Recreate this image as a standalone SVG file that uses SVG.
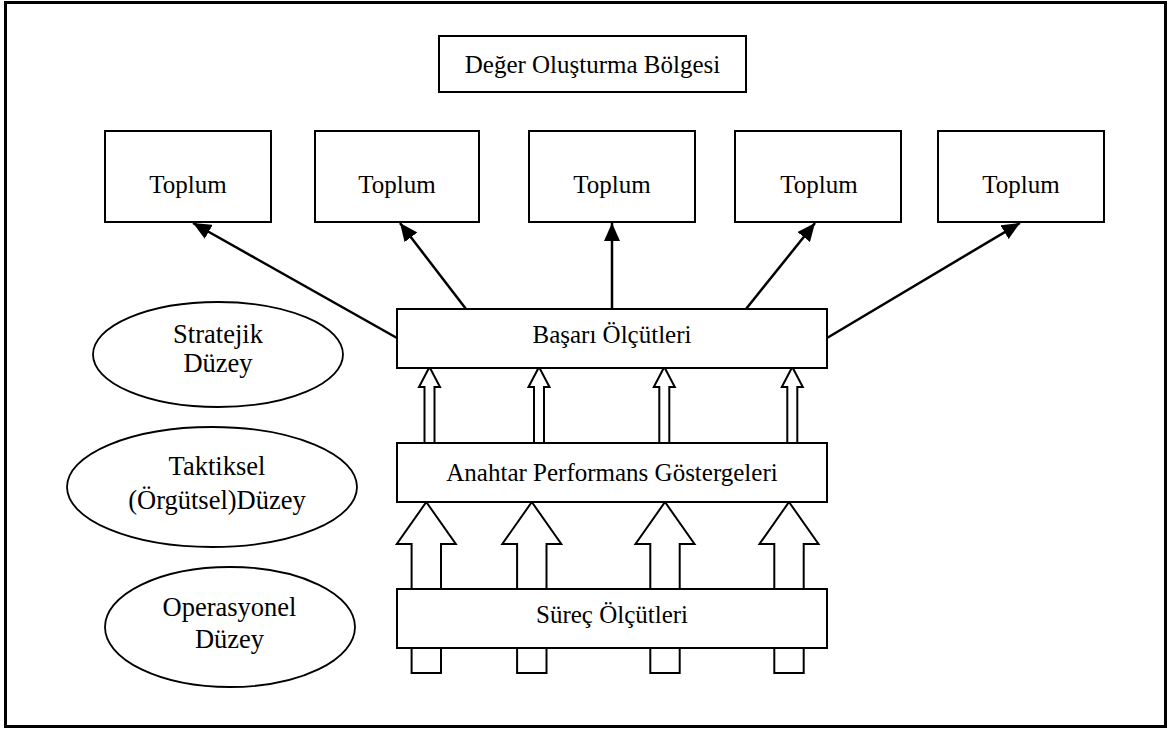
<svg xmlns="http://www.w3.org/2000/svg" width="1167" height="729" viewBox="0 0 1167 729">
  <style>
    .box { fill: #fff; stroke: #000; stroke-width: 2; }
    .oval { fill: #fff; stroke: #000; stroke-width: 1.8; }
    .lbl { font-family: "Liberation Serif", "Times New Roman", serif; font-size: 25px; fill: #000; text-anchor: middle; }
    .lvl { font-family: "Liberation Serif", "Times New Roman", serif; font-size: 26.5px; fill: #000; text-anchor: middle; }
    .link { stroke: #000; stroke-width: 2.5; fill: none; marker-end: url(#head); }
    .block { fill: #fff; stroke: #000; stroke-width: 2; stroke-linejoin: miter; }
  </style>
  <defs>
    <marker id="head" markerUnits="userSpaceOnUse" markerWidth="20" markerHeight="16" refX="18" refY="8" orient="auto">
      <path d="M0,0 L18,8 L0,16 Z" fill="#000"/>
    </marker>
  </defs>

  <rect x="0" y="0" width="1167" height="729" fill="#fff"/>
  <!-- frame -->
  <rect x="5.5" y="2.5" width="1160" height="724" fill="none" stroke="#000" stroke-width="3"/>

  <g id="connectors">
    <!-- success measures to society boxes -->
    <line class="link" x1="397" y1="338" x2="193" y2="223"/>
    <line class="link" x1="466" y1="309" x2="400" y2="223"/>
    <line class="link" x1="612" y1="309" x2="612" y2="223"/>
    <line class="link" x1="746" y1="309" x2="815" y2="223"/>
    <line class="link" x1="827" y1="338" x2="1020" y2="223"/>
    <!-- narrow block arrows: KPI to success measures -->
    <path class="block" d="M429.5,367 L440,387 L434.5,387 L434.5,443 L424.5,443 L424.5,387 L419,387 Z"/>
    <path class="block" d="M539,367 L549.5,387 L544,387 L544,443 L534,443 L534,387 L528.5,387 Z"/>
    <path class="block" d="M664.3,367 L674.8,387 L669.3,387 L669.3,443 L659.3,443 L659.3,387 L653.8,387 Z"/>
    <path class="block" d="M792.3,367 L802.8,387 L797.3,387 L797.3,443 L787.3,443 L787.3,387 L781.8,387 Z"/>
    <!-- wide block arrows: process measures to KPI -->
    <path class="block" d="M426.3,502 L455.8,544 L441,544 L441,673 L411.6,673 L411.6,544 L396.8,544 Z"/>
    <path class="block" d="M531.8,502 L561.3,544 L546.5,544 L546.5,673 L517.1,673 L517.1,544 L502.3,544 Z"/>
    <path class="block" d="M665,502 L694.5,544 L679.7,544 L679.7,673 L650.3,673 L650.3,544 L635.5,544 Z"/>
    <path class="block" d="M789,502 L818.5,544 L803.7,544 L803.7,673 L774.3,673 L774.3,544 L759.5,544 Z"/>
  </g>

  <g id="value-zone">
    <rect class="box" x="439" y="36" width="307" height="56"/>
    <text class="lbl" x="592.5" y="72.5">Değer Oluşturma Bölgesi</text>
  </g>

  <g id="society-1">
    <rect class="box" x="105" y="131" width="166" height="91"/>
    <text class="lbl" x="188" y="192.5">Toplum</text>
  </g>
  <g id="society-2">
    <rect class="box" x="315" y="131" width="164" height="91"/>
    <text class="lbl" x="397" y="192.5">Toplum</text>
  </g>
  <g id="society-3">
    <rect class="box" x="529" y="131" width="166" height="91"/>
    <text class="lbl" x="612" y="192.5">Toplum</text>
  </g>
  <g id="society-4">
    <rect class="box" x="735" y="131" width="166" height="91"/>
    <text class="lbl" x="819" y="192.5">Toplum</text>
  </g>
  <g id="society-5">
    <rect class="box" x="938" y="131" width="166" height="91"/>
    <text class="lbl" x="1021" y="192.5">Toplum</text>
  </g>

  <g id="success-measures">
    <rect class="box" x="397" y="309" width="430" height="59"/>
    <text class="lbl" x="612" y="343">Başarı Ölçütleri</text>
  </g>
  <g id="kpi">
    <rect class="box" x="397" y="443" width="430" height="59"/>
    <text class="lbl" x="612" y="481">Anahtar Performans Göstergeleri</text>
  </g>
  <g id="process-measures">
    <rect class="box" x="397" y="589" width="430" height="59"/>
    <text class="lbl" x="612" y="623">Süreç Ölçütleri</text>
  </g>

  <g id="strategic-level">
    <ellipse class="oval" cx="218" cy="354.5" rx="125" ry="52.5"/>
    <text class="lvl" x="218" y="343">Stratejik</text>
    <text class="lvl" x="218" y="372">Düzey</text>
  </g>
  <g id="tactical-level">
    <ellipse class="oval" cx="212" cy="487" rx="145" ry="60"/>
    <text class="lvl" x="217" y="475">Taktiksel</text>
    <text class="lvl" x="217" y="509">(Örgütsel)Düzey</text>
  </g>
  <g id="operational-level">
    <ellipse class="oval" cx="230" cy="627" rx="125" ry="60"/>
    <text class="lvl" x="229.5" y="616">Operasyonel</text>
    <text class="lvl" x="229.5" y="648">Düzey</text>
  </g>
</svg>
